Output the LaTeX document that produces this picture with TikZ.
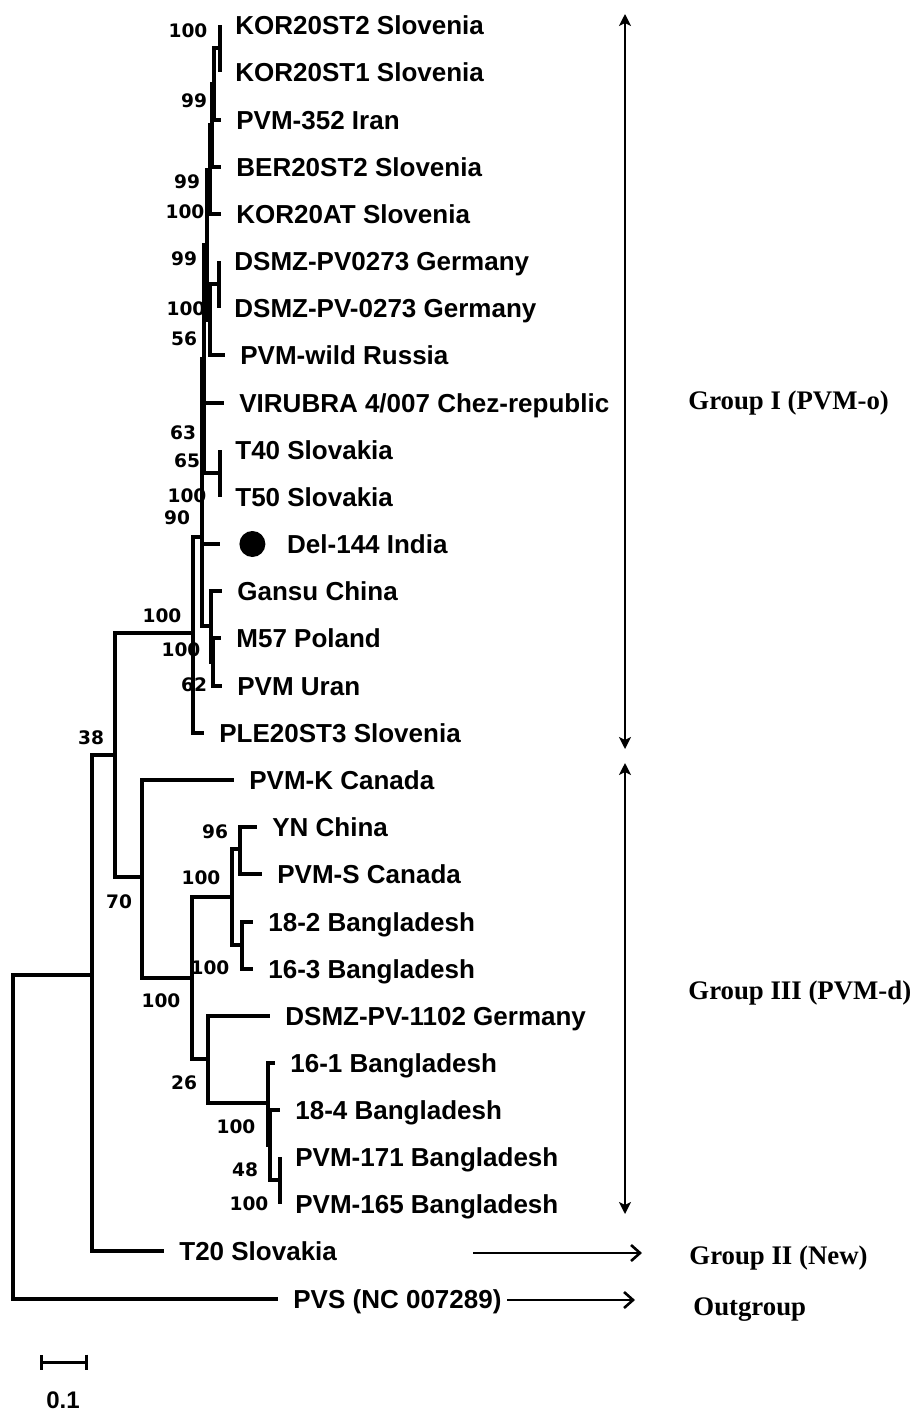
\documentclass[tikz,border=0pt]{standalone}
\usepackage{fontspec}
\setmainfont{Liberation Serif}
\setsansfont{Liberation Sans}
\newfontfamily\bootfont{DejaVu Sans}
\usetikzlibrary{arrows.meta,positioning}
\tikzset{
  branch/.style={line width=1.7pt},
  leaf/.style={inner sep=0pt, font=\sffamily\bfseries\fontsize{13}{15}\selectfont, text height=9.3pt, text depth=0pt},
  boot/.style={inner sep=0pt, font=\bootfont\bfseries\fontsize{9.3}{11}\selectfont, text height=6.8pt, text depth=0pt},
  grp/.style={anchor=west, inner sep=0pt, font=\rmfamily\bfseries\fontsize{13.4}{16}\selectfont, text height=9pt, text depth=0pt},
  span/.style={{Stealth[length=6pt,width=6pt,inset=1.5pt]}-{Stealth[length=6pt,width=6pt,inset=1.5pt]}, line width=1pt},
  pointer/.style={-{Straight Barb[length=4.5pt,width=8pt]}, line width=1.3pt},
  marker/.style={circle, fill=black, minimum size=13pt, inner sep=0pt},
}
\begin{document}
\begin{tikzpicture}[x=0.5pt, y=-0.5pt]
\useasboundingbox (0,0) rectangle (915,1414);
% leaf tips
\coordinate (tK2) at (220,25);
\coordinate (tK1) at (220,72);
\coordinate (tP352) at (221,120);
\coordinate (tBER) at (221,167);
\coordinate (tKAT) at (221,214);
\coordinate (tD1) at (219,261);
\coordinate (tD2) at (219,308);
\coordinate (tPw) at (225,355);
\coordinate (tVIR) at (224,403);
\coordinate (tT40) at (220,450);
\coordinate (tT50) at (220,497);
\coordinate (tDel) at (220,544);
\coordinate (tGan) at (222,591);
\coordinate (tM57) at (221,638);
\coordinate (tUr) at (222,686);
\coordinate (tPLE) at (204,733);
\coordinate (tPK) at (234,780);
\coordinate (tYN) at (257,827);
\coordinate (tPS) at (262,874);
\coordinate (t182) at (253,922);
\coordinate (t163) at (253,969);
\coordinate (tD1102) at (270,1016);
\coordinate (t161) at (275,1063);
\coordinate (t184) at (280,1110);
\coordinate (tP171) at (280,1157);
\coordinate (tP165) at (280,1204);
\coordinate (tT20) at (164,1251);
\coordinate (tPVS) at (278,1299);
% internal nodes
\coordinate (n1) at (220,48);
\coordinate (n2) at (214,84);
\coordinate (n3) at (212,125);
\coordinate (n4) at (210,170);
\coordinate (n5) at (219,284);
\coordinate (n6) at (210,320);
\coordinate (n7) at (207,245);
\coordinate (n8) at (220,473);
\coordinate (n9) at (204,359);
\coordinate (n10) at (211,626);
\coordinate (n11) at (213,662);
\coordinate (n12) at (202,537);
\coordinate (g1) at (193,633);
\coordinate (m70) at (142,877);
\coordinate (m100a) at (192,978);
\coordinate (m100b) at (232,897);
\coordinate (m96) at (240,849);
\coordinate (m18) at (242,945);
\coordinate (m26) at (208,1059);
\coordinate (m100c) at (268,1103);
\coordinate (mq) at (270,1145);
\coordinate (m48) at (280,1180);
\coordinate (nA) at (115,755);
\coordinate (n38) at (92,975);
\coordinate (root) at (13,1137);
% group I
\draw[branch] (n1) |- (tK2) (n1) |- (tK1);
\draw[branch] (n2) |- (n1) (n2) |- (tP352);
\draw[branch] (n3) |- (n2) (n3) |- (tBER);
\draw[branch] (n4) |- (n3) (n4) |- (tKAT);
\draw[branch] (n5) |- (tD1) (n5) |- (tD2);
\draw[branch] (n6) |- (n5) (n6) |- (tPw);
\draw[branch] (n7) |- (n4) (n7) |- (n6);
\draw[branch] (n8) |- (tT40) (n8) |- (tT50);
\draw[branch] (n9) |- (n7) (n9) |- (tVIR) (n9) |- (n8);
\draw[branch] (n11) |- (tM57) (n11) |- (tUr);
\draw[branch] (n10) |- (tGan) (n10) |- (n11);
\draw[branch] (n12) |- (n9) (n12) |- (tDel) (n12) |- (n10);
\draw[branch] (g1) |- (n12) (g1) |- (tPLE);
% group III
\draw[branch] (m96) |- (tYN) (m96) |- (tPS);
\draw[branch] (m18) |- (t182) (m18) |- (t163);
\draw[branch] (m100b) |- (m96) (m100b) |- (m18);
\draw[branch] (m48) |- (tP171) (m48) |- (tP165);
\draw[branch] (mq) |- (t184) (mq) |- (m48);
\draw[branch] (m100c) |- (t161) (m100c) |- (mq);
\draw[branch] (m26) |- (tD1102) (m26) |- (m100c);
\draw[branch] (m100a) |- (m100b) (m100a) |- (m26);
\draw[branch] (m70) |- (tPK) (m70) |- (m100a);
% deep nodes
\draw[branch] (nA) |- (g1) (nA) |- (m70);
\draw[branch] (n38) |- (nA) (n38) |- (tT20);
\draw[branch] (root) |- (n38) (root) |- (tPVS);
% leaf labels
\node[leaf, right=7.5pt of tK2] (lK2) {KOR20ST2 Slovenia};
\node[leaf, right=7.5pt of tK1] (lK1) {KOR20ST1 Slovenia};
\node[leaf, right=7.5pt of tP352] (lP352) {PVM-352 Iran};
\node[leaf, right=7.5pt of tBER] (lBER) {BER20ST2 Slovenia};
\node[leaf, right=7.5pt of tKAT] (lKAT) {KOR20AT Slovenia};
\node[leaf, right=7.5pt of tD1] (lD1) {DSMZ-PV0273 Germany};
\node[leaf, right=7.5pt of tD2] (lD2) {DSMZ-PV-0273 Germany};
\node[leaf, right=7.5pt of tPw] (lPw) {PVM-wild Russia};
\node[leaf, right=7.5pt of tVIR] (lVIR) {VIRUBRA 4/007 Chez-republic};
\node[leaf, right=7.5pt of tT40] (lT40) {T40 Slovakia};
\node[leaf, right=7.5pt of tT50] (lT50) {T50 Slovakia};
\node[marker, right=9.5pt of tDel] (dot) {};
\node[leaf, right=10.5pt of dot] (lDel) {Del-144 India};
\node[leaf, right=7.5pt of tGan] (lGan) {Gansu China};
\node[leaf, right=7.5pt of tM57] (lM57) {M57 Poland};
\node[leaf, right=7.5pt of tUr] (lUr) {PVM Uran};
\node[leaf, right=7.5pt of tPLE] (lPLE) {PLE20ST3 Slovenia};
\node[leaf, right=7.5pt of tPK] (lPK) {PVM-K Canada};
\node[leaf, right=7.5pt of tYN] (lYN) {YN China};
\node[leaf, right=7.5pt of tPS] (lPS) {PVM-S Canada};
\node[leaf, right=7.5pt of t182] (l182) {18-2 Bangladesh};
\node[leaf, right=7.5pt of t163] (l163) {16-3 Bangladesh};
\node[leaf, right=7.5pt of tD1102] (lD1102) {DSMZ-PV-1102 Germany};
\node[leaf, right=7.5pt of t161] (l161) {16-1 Bangladesh};
\node[leaf, right=7.5pt of t184] (l184) {18-4 Bangladesh};
\node[leaf, right=7.5pt of tP171] (lP171) {PVM-171 Bangladesh};
\node[leaf, right=7.5pt of tP165] (lP165) {PVM-165 Bangladesh};
\node[leaf, right=7.5pt of tT20] (lT20) {T20 Slovakia};
\node[leaf, right=7.5pt of tPVS] (lPVS) {PVS (NC 007289)};
% bootstrap values
\node[boot] (b1) at (188,31) {100};
\node[boot] (b2) at (194,101) {99};
\node[boot] (b3) at (187,182) {99};
\node[boot] (b4) at (185,212) {100};
\node[boot] (b5) at (184,259) {99};
\node[boot] (b6) at (186,309) {100};
\node[boot] (b7) at (184,339) {56};
\node[boot] (b8) at (183,433) {63};
\node[boot] (b9) at (187,461) {65};
\node[boot] (b10) at (187,496) {100};
\node[boot] (b11) at (177,518) {90};
\node[boot] (b12) at (162,616) {100};
\node[boot] (b13) at (181,650) {100};
\node[boot] (b14) at (194,685) {62};
\node[boot] (b15) at (91,738) {38};
\node[boot] (b16) at (119,902) {70};
\node[boot] (b17) at (215,832) {96};
\node[boot] (b18) at (201,878) {100};
\node[boot] (b19) at (210,968) {100};
\node[boot] (b20) at (161,1001) {100};
\node[boot] (b21) at (184,1083) {26};
\node[boot] (b22) at (236,1127) {100};
\node[boot] (b23) at (245,1170) {48};
\node[boot] (b24) at (249,1204) {100};
% groups
\coordinate (gIa) at (625,14);
\coordinate (gIb) at (625,749);
\coordinate (gIIIa) at (625,763);
\coordinate (gIIIb) at (625,1214);
\coordinate (gIIa) at (473,1253);
\coordinate (gIIb) at (642,1253);
\coordinate (outa) at (507,1300);
\coordinate (outb) at (635,1300);
\draw[span] (gIa) -- (gIb);
\draw[span] (gIIIa) -- (gIIIb);
\draw[pointer] (gIIa) -- (gIIb);
\draw[pointer] (outa) -- (outb);
\node[grp] (lgI) at (688,400) {Group I (PVM-o)};
\node[grp] (lgIII) at (688,990) {Group III (PVM-d)};
\node[grp] (lgII) at (689,1255) {Group II (New)};
\node[grp] (lout) at (693,1306) {Outgroup};
% scale
\coordinate (sa) at (40,1362);
\coordinate (sb) at (88,1362);
\draw[{Bar[width=7.5pt]}-{Bar[width=7.5pt]}, line width=1.5pt] (sa) -- (sb);
\node[inner sep=0pt, font=\sffamily\bfseries\fontsize{12}{14}\selectfont, text height=8.6pt, text depth=0pt] (lscale) at (63,1400) {0.1};
\end{tikzpicture}
\end{document}
